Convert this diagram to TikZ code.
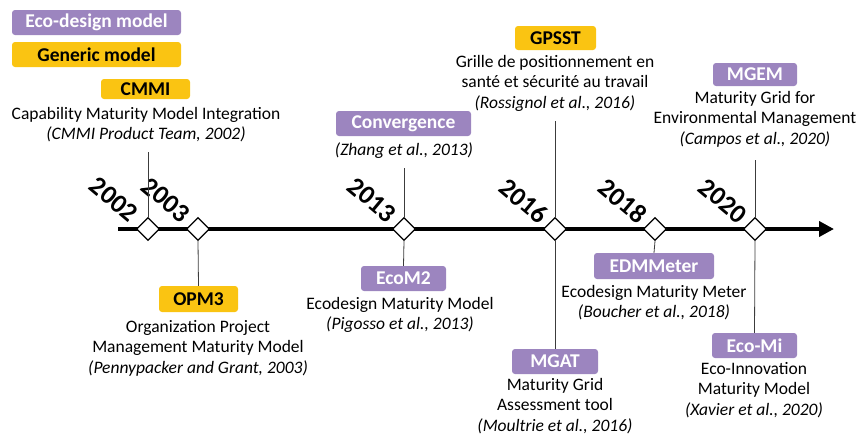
\documentclass[tikz,border=0pt]{standalone}
\usepackage{fontspec}
\setmainfont{Carlito}
\usetikzlibrary{shapes.geometric,arrows.meta}
\definecolor{ecopurple}{RGB}{156,133,191}
\definecolor{gengold}{RGB}{250,196,18}
\definecolor{connector}{RGB}{60,60,60}
\tikzset{
  tag/.style={rounded corners=3pt, inner sep=0pt, font=\fontsize{19.5}{20}\selectfont\bfseries},
  ecotag/.style={tag, fill=ecopurple, text=white},
  gentag/.style={tag, fill=gengold, text=black},
  desc/.style={anchor=north, align=center, inner sep=0pt, font=\fontsize{17.5}{20.5}\selectfont},
  diam/.style={diamond, draw=black, line width=1.2pt, fill=white, minimum size=23pt, inner sep=0pt},
  year/.style={rotate=-40, inner sep=0pt, font=\fontsize{26.5}{27}\selectfont\bfseries},
  link/.style={draw=connector, line width=0.8pt},
}
\begin{document}
\begin{tikzpicture}[x=1pt,y=-1pt]
\useasboundingbox (0,0) rectangle (857,434);

% legend
\node[ecotag, minimum width=169pt, minimum height=25pt] (legeco) at (96.5,22.5) {Eco-design model};
\node[gentag, minimum width=169pt, minimum height=25pt] (leggen) at (96.5,54.5) {Generic model};

% timeline
\coordinate (tstart) at (118,229);
\coordinate (tend) at (834,229);
\draw[line width=4.5pt, -{Triangle[length=15pt,width=15pt]}] (tstart) -- (tend);

% diamonds
\node[diam] (d2002) at (148,229) {};
\node[diam] (d2003) at (198,229) {};
\node[diam] (d2013) at (404,229) {};
\node[diam] (d2016) at (555,229) {};
\node[diam] (d2018) at (655,229) {};
\node[diam] (d2020) at (755,229) {};

% years
\node[year] (y2002) at (114,199.5) {2002};
\node[year] (y2003) at (166,200) {2003};
\node[year] (y2013) at (372,200) {2013};
\node[year] (y2016) at (524,201) {2016};
\node[year] (y2018) at (623,201) {2018};
\node[year] (y2020) at (723,201) {2020};

% CMMI
\node[gentag, minimum width=89pt, minimum height=20pt] (cmmi) at (145.5,89) {CMMI};
\node[desc] (cmmitxt) at (146,107) {Capability Maturity Model Integration\\\textit{(CMMI Product Team, 2002)}};
\coordinate (cmmiend) at (148,152);
\draw[link] (cmmiend) -- (d2002.north);

% OPM3
\node[gentag, minimum width=79pt, minimum height=26pt] (opm3) at (198.5,299) {OPM3};
\node[desc] (opm3txt) at (198,320) {Organization Project\\Management Maturity Model\\\textit{(Pennypacker and Grant, 2003)}};
\draw[link] (d2003.south) -- (opm3.north);

% Convergence
\node[ecotag, minimum width=135pt, minimum height=25pt] (conv) at (403.5,123.5) {Convergence};
\node[desc] (convtxt) at (404,143) {\textit{(Zhang et al., 2013)}};
\coordinate (convend) at (404,168);
\draw[link] (convend) -- (d2013.north);

% EcoM2
\node[ecotag, minimum width=85pt, minimum height=25pt] (ecom2) at (403.5,278.5) {EcoM2};
\node[desc] (ecom2txt) at (400,297) {Ecodesign Maturity Model\\\textit{(Pigosso et al., 2013)}};
\draw[link] (d2013.south) -- (ecom2.north);

% GPSST
\node[gentag, minimum width=81pt, minimum height=24pt] (gpsst) at (555.5,38) {GPSST};
\node[desc] (gpssttxt) at (555,55) {Grille de positionnement en\\santé et sécurité au travail\\\textit{(Rossignol et al., 2016)}};
\coordinate (gpsstend) at (555,121);
\draw[link] (gpsstend) -- (d2016.north);

% MGAT
\node[ecotag, minimum width=86pt, minimum height=25pt] (mgat) at (555,361.5) {MGAT};
\node[desc] (mgattxt) at (555,378) {Maturity Grid\\Assessment tool\\\textit{(Moultrie et al., 2016)}};
\draw[link] (d2016.south) -- (mgat.north);

% EDMMeter
\node[ecotag, minimum width=120pt, minimum height=26pt] (edm) at (654,266) {EDMMeter};
\node[desc] (edmtxt) at (654,285) {Ecodesign Maturity Meter\\\textit{(Boucher et al., 2018)}};
\draw[link] (d2018.south) -- (edm.north);

% MGEM
\node[ecotag, minimum width=84pt, minimum height=23pt] (mgem) at (755,74.5) {MGEM};
\node[desc] (mgemtxt) at (755,91) {Maturity Grid for\\Environmental Management\\\textit{(Campos et al., 2020)}};
\coordinate (mgemend) at (755,160);
\draw[link] (mgemend) -- (d2020.north);

% Eco-Mi
\node[ecotag, minimum width=85pt, minimum height=25pt] (ecomi) at (754.5,345.5) {Eco-Mi};
\node[desc] (ecomitxt) at (754,362) {Eco-Innovation\\Maturity Model\\\textit{(Xavier et al., 2020)}};
\draw[link] (d2020.south) -- (ecomi.north);
\end{tikzpicture}
\end{document}
